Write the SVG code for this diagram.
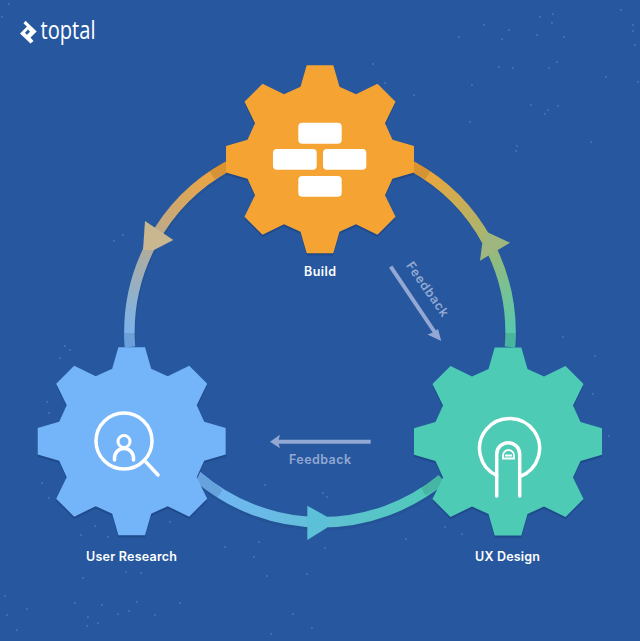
<svg xmlns="http://www.w3.org/2000/svg" width="640" height="641" viewBox="0 0 640 641" font-family="Inter, 'Liberation Sans', sans-serif">
<style>
.stars{fill:none;stroke:#a9c6ee;stroke-width:1.3;stroke-linecap:round;opacity:.55}
.arc{fill:none;stroke-width:10.500}
.shade{fill:none;stroke-width:10.500;stroke:#000;stroke-opacity:.1}
.arcsh{fill:none;stroke-width:10;stroke:#1c4686;stroke-opacity:.3}
.shadow{fill:#1f4a8c}
.label{fill:#fff;font-size:12.500px;font-weight:600;text-anchor:middle}
.fb{fill:#93a8d2;font-size:12.500px;font-weight:600;text-anchor:middle}
.fbline{stroke:#93a8d2;stroke-width:4;fill:none}
.ico{fill:none;stroke:#fff;stroke-width:3.500;stroke-linecap:round}
.brick{fill:#fff}
</style>
<defs>
<polygon id="gear" points="-13.3,-94 13.3,-94 19.5,-72.5 36,-65 57.5,-75.5 75.5,-57.5 65,-36 72.5,-19.5 94,-13.3 94,13.3 72.5,19.5 65,36 75.5,57.5 57.5,75.5 36,65 19.5,72.5 13.3,94 -13.3,94 -19.5,72.5 -36,65 -57.5,75.5 -75.5,57.5 -65,36 -72.5,19.5 -94,13.3 -94,-13.3 -72.5,-19.5 -65,-36 -75.5,-57.5 -57.5,-75.5 -36,-65 -19.5,-72.5"/>
<linearGradient id="gR" gradientUnits="userSpaceOnUse" x1="414" y1="167" x2="510" y2="347"><stop offset="0" stop-color="#f5a333"/><stop offset="1" stop-color="#4dcbb5"/></linearGradient>
<linearGradient id="gL" gradientUnits="userSpaceOnUse" x1="226" y1="167" x2="130" y2="347"><stop offset="0" stop-color="#f5a333"/><stop offset="1" stop-color="#74b4f8"/></linearGradient>
<linearGradient id="gB" gradientUnits="userSpaceOnUse" x1="200" y1="480" x2="440" y2="480"><stop offset="0" stop-color="#74b4f8"/><stop offset="1" stop-color="#4dcbb5"/></linearGradient>
</defs>
<rect width="640" height="641" fill="#27589f"/>
<path class="stars" d="M484 25h0M509 30h0M502 39h0M537 35h0M540 17h0M552 23h0M553 14h0M564 37h0M621 10h0M633 25h0M633 31h0M635 45h0M499 67h0M513 68h0M557 62h0M549 68h0M606 77h0M638 82h0M531 105h0M558 106h0M545 114h0M548 110h0M591 142h0M470 122h0M517 146h0M459 37h0M414 95h0M95 526h0M81 535h0M170 522h0M259 542h0M254 557h0M83 578h0M141 573h0M126 572h0M267 576h0M5 596h0M75 603h0M102 605h0M137 602h0M180 603h0M7 615h0M27 609h0M118 614h0M129 611h0M155 615h0M88 617h0M87 626h0M98 623h0M17 630h0M293 614h0M271 634h0M312 628h0M307 574h0M65 346h0M70 350h0M60 358h0M47 402h0M49 413h0M42 483h0M49 498h0M265 485h0M108 537h0M225 547h0M563 337h0M595 356h0M593 394h0M609 436h0M323 493h0M327 497h0M445 527h0M462 534h0M406 539h0M325 548h0M373 64h0M385 83h0M516 151h0M472 85h0M114 241h0M123 235h0M2 17h0M9 4h0"/>
<g id="logo">
<polygon fill="#fff" points="25.5,20.700 36.700,31.500 30.500,37.500 33.500,41 30.500,43.500 20,33.500 27,26.500 23.500,23.500"/>
<polygon fill="#27589f" points="28,29.500 25,32.800 27,34.800 30,31.800"/>
<text x="40.500" y="39.300" fill="#fff" font-size="25" font-family="'Open Sans', sans-serif" textLength="55" lengthAdjust="spacingAndGlyphs">toptal</text>
</g>
<g id="connectors">
<path class="arcsh" transform="translate(1 3)" d="M414 167A190 190 0 0 1 510 347"/>
<path class="arcsh" transform="translate(1 3)" d="M226 167A190 190 0 0 0 130 347"/>
<path class="arcsh" transform="translate(0 3)" d="M198 477A190 190 0 0 0 441 480"/>
<path class="arc" stroke="url(#gR)" d="M412 166A190 190 0 0 1 510 347"/>
<path class="arc" stroke="url(#gL)" d="M228 166A190 190 0 0 0 130 347"/>
<path class="arc" stroke="url(#gB)" d="M197 476A190 190 0 0 0 442 479"/>
<path class="shade" d="M412 166A190 190 0 0 1 428 175M510 333V347M228 166A190 190 0 0 0 212 175M130 333V347M197 476A190 190 0 0 0 220 494M423 491A190 190 0 0 0 442 479"/>
<polygon fill="#9fb67e" points="510,242.700 480,260.700 482,245 487,232"/>
<polygon fill="#c9b78f" points="145,221 173.300,240 154,250 143,250"/>
<polygon fill="#5cc0d8" points="307.300,505.700 327,516.700 327,527.700 307.300,540"/>
<path class="fbline" d="M390.700 266.700L436 334"/>
<polygon fill="#93a8d2" points="441.300,341 427.500,334.500 433,332.500 438,329"/>
<path class="fbline" d="M370.700 441.700H276"/>
<polygon fill="#93a8d2" points="270,441.700 280,434.700 278,441.700 280,448.300"/>
</g>
<g id="feedback-labels">
<text class="fb" x="426.500" y="293" transform="rotate(55 426.500 290)" textLength="64">Feedback</text>
<text class="fb" x="320" y="463.700" textLength="62">Feedback</text>
</g>
<g id="build">
<use href="#gear" class="shadow" x="320" y="161.500"/>
<use href="#gear" fill="#f5a333" x="320" y="159.300"/>
<rect class="brick" x="298.300" y="122.700" width="43.400" height="21" rx="4"/>
<rect class="brick" x="273" y="149" width="43.700" height="20.700" rx="4"/>
<rect class="brick" x="323" y="149" width="43.300" height="20.700" rx="4"/>
<rect class="brick" x="298.300" y="176" width="43.400" height="20.700" rx="4"/>
<text class="label" x="320" y="276" textLength="32">Build</text>
</g>
<g id="user-research">
<use href="#gear" class="shadow" x="131.700" y="443.500"/>
<use href="#gear" fill="#74b4f8" x="131.700" y="441.200"/>
<circle class="ico" cx="124" cy="441" r="28"/>
<circle cx="124" cy="441.500" r="6" fill="none" stroke="#fff" stroke-width="3"/>
<path d="M114.500 460v-2a9.500 9.500 0 0 1 19 0v2M146 462L158 475" class="ico" stroke-width="3"/>
<text class="label" x="131.500" y="560.700" textLength="91">User Research</text>
</g>
<g id="ux-design">
<use href="#gear" class="shadow" x="508" y="443.700"/>
<use href="#gear" fill="#4dcbb5" x="508" y="441.500"/>
<path class="ico" stroke-linecap="butt" d="M496.700 475.500A30 30 0 1 1 520 476.500"/>
<path class="ico" stroke-linecap="butt" d="M496.700 496V454.200a11.500 11.500 0 0 1 23 0V496"/>
<path fill="none" stroke="#fff" stroke-width="1.800" d="M503 458.500h11v-3a5.500 5.500 0 0 0-11 0zM505 455.500h7"/>
<text class="label" x="507.500" y="561" textLength="65">UX Design</text>
</g>
</svg>
